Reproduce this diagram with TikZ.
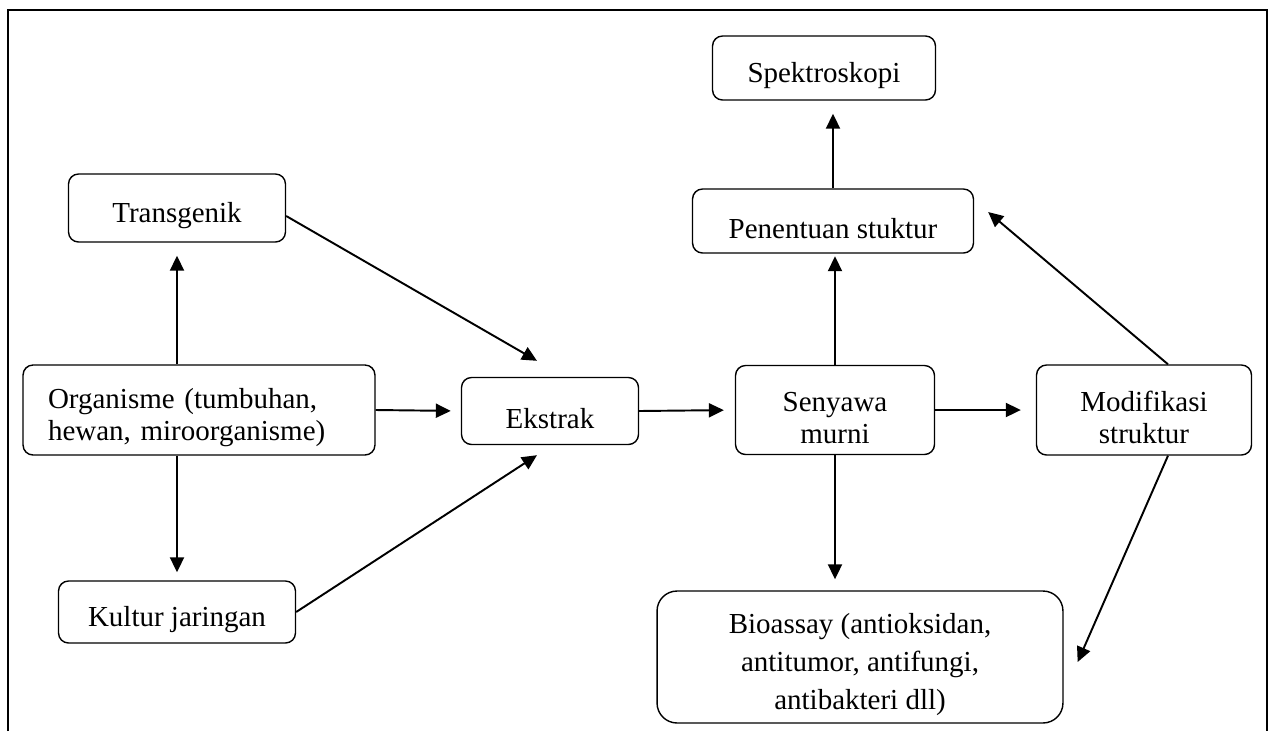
\documentclass[tikz,border=0pt]{standalone}
\usepackage{fontspec}
\setmainfont{Liberation Serif}
\usetikzlibrary{arrows.meta}
\newcommand{\turun}{\rule{0pt}{20pt}}

\begin{document}
\begin{tikzpicture}[
  x=0.02cm,y=-0.02cm,
  tahap/.style={
    draw,
    line width=0.8pt,
    rounded corners=0.2cm,
    inner sep=0pt,
    align=center,
    font=\fontsize{16.5}{18}\selectfont
  },
  arrow/.style={-{Triangle[length=0.3cm,width=0.28cm]},line width=1.1pt}
]
  \useasboundingbox (0,0) rectangle (1271,731);
  \draw[line width=1.1pt] (8,731) -- (8,10) -- (1267,10) -- (1267,731);

  \node[tahap,minimum width=4.46cm,minimum height=1.28cm] (spektro) at (824,68) {\turun Spektroskopi};
  \node[tahap,minimum width=5.62cm,minimum height=1.28cm] (penentuan) at (833,221) {\turun Penentuan stuktur};
  \node[tahap,minimum width=4.34cm,minimum height=1.36cm] (transgenik) at (177,208) {\turun Transgenik};
  \node[tahap,minimum width=7.04cm,minimum height=1.8cm,align=left,text width=6.04cm,inner xsep=0.5cm] (organisme) at (199,410) {\turun Organisme (tumbuhan,\\hewan, miroorganisme)};
  \node[tahap,minimum width=3.54cm,minimum height=1.34cm] (ekstrak) at (550,411) {\turun Ekstrak};
  \node[tahap,minimum width=3.98cm,minimum height=1.78cm] (senyawa) at (835,410) {\turun Senyawa\\murni};
  \node[tahap,minimum width=4.3cm,minimum height=1.8cm] (modif) at (1144,410) {\turun Modifikasi\\struktur};
  \node[tahap,minimum width=4.74cm,minimum height=1.24cm] (kultur) at (177,612) {\turun Kultur jaringan};
  \node[tahap,minimum width=8.12cm,minimum height=2.64cm,rounded corners=0.4cm,font=\fontsize{16.5}{21.6}\selectfont] (bioassay) at (860,657) {\turun Bioassay (antioksidan,\\antitumor, antifungi,\\antibakteri dll)};

  \draw[arrow,shorten >=0.26cm] (transgenik.south |- organisme.north) -- (transgenik.south);
  \draw[arrow,shorten >=0.16cm] (kultur.north |- organisme.south) -- (kultur.north);
  \draw[arrow] ([yshift=-0.16cm]transgenik.east) -- ([xshift=-0.26cm,yshift=0.32cm]ekstrak.north);
  \draw[arrow] (kultur.east) -- ([xshift=-0.26cm,yshift=-0.2cm]ekstrak.south);
  \draw[arrow,shorten >=0.2cm] (organisme.east) -- (ekstrak.west);
  \draw[arrow,shorten >=0.22cm] (ekstrak.east) -- (senyawa.west);
  \draw[arrow,shorten >=0.3cm] (senyawa.east) -- (modif.west);
  \draw[arrow,shorten >=0.05cm] (senyawa.north) -- (senyawa.north |- penentuan.south);
  \draw[arrow,shorten >=0.26cm] (penentuan.north) -- (penentuan.north |- spektro.south);
  \draw[arrow,shorten >=0.22cm] (senyawa.south) -- (senyawa.south |- bioassay.north);
  \draw[arrow] ([xshift=0.48cm]modif.north) -- ([xshift=0.28cm,yshift=0.18cm]penentuan.east);
  \draw[arrow] ([xshift=0.48cm]modif.south) -- ([xshift=0.28cm,yshift=-0.1cm]bioassay.east);
\end{tikzpicture}
\end{document}
